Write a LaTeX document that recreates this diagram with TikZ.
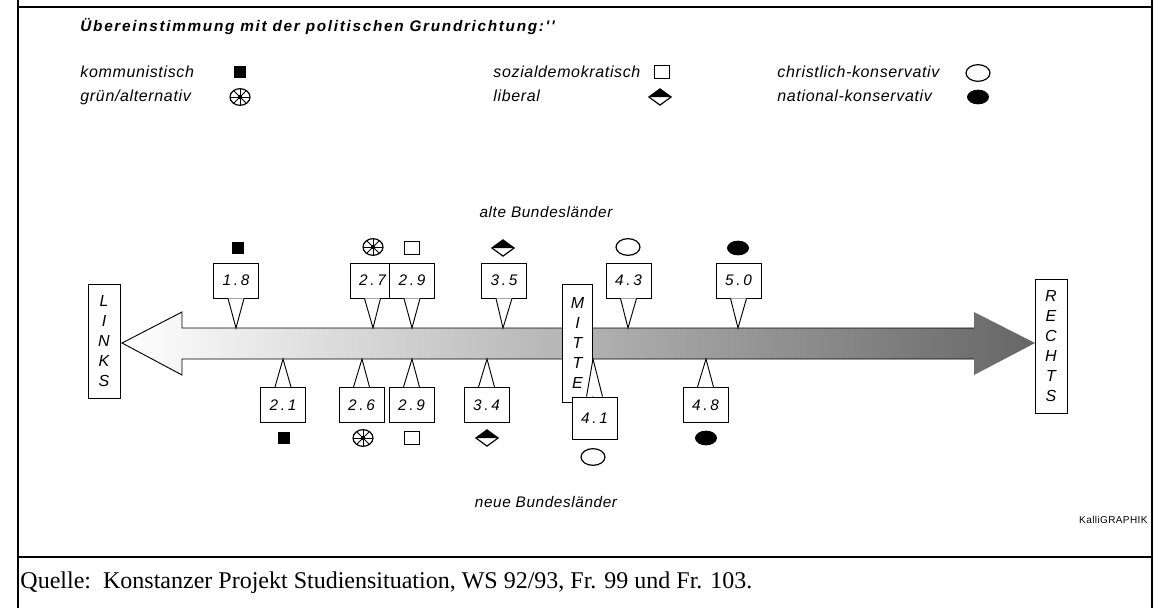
\documentclass[tikz,border=0pt]{standalone}
\usepackage{fontspec}
\setmainfont{Liberation Serif}
\newfontfamily\legfont[LetterSpace=4]{Liberation Sans}
\newfontfamily\titfont[LetterSpace=11]{Liberation Sans}
\newfontfamily\numfont[LetterSpace=18]{Liberation Sans}
\usetikzlibrary{shapes.geometric}

\begin{document}
\begin{tikzpicture}[x=0.75pt,y=-0.75pt,inner sep=0pt,line width=0.7pt,
  leg/.style={anchor=base west,font=\legfont\itshape\fontsize{12}{14}\selectfont},
  wert/.style={draw,fill=white,minimum width=33.75pt,minimum height=26.25pt,font=\numfont\itshape\fontsize{11.5}{13}\selectfont},
  zeiger/.style={draw,fill=white},
  seite/.style={draw,fill=white,align=center,minimum width=24pt,font=\legfont\itshape\fontsize{12}{15}\selectfont},
  komm/.style={fill=black,minimum width=9pt,minimum height=8.5pt},
  spd/.style={draw,fill=white,minimum width=11pt,minimum height=10pt,line width=0.9pt},
  gruen/.style={ellipse,draw,fill=white,minimum width=15pt,minimum height=12.5pt,line width=0.9pt,
    path picture={\foreach \w in {0,45,...,315} \draw[line width=0.7pt] (path picture bounding box.center) -- ++(\w:10pt);
      \fill[black] (path picture bounding box.center) circle (1.6pt);}},
  lib/.style={diamond,draw,fill=white,minimum width=17pt,minimum height=12.5pt,line width=0.9pt,
    path picture={\fill[black] (path picture bounding box.center) ++(-10pt,0pt) -- ++(10pt,8pt) -- ++(10pt,-8pt) -- cycle;}},
  cdu/.style={ellipse,draw,fill=white,minimum width=18pt,minimum height=12.5pt,line width=0.9pt},
  nat/.style={ellipse,fill=black,minimum width=16.5pt,minimum height=11pt}]
\useasboundingbox (0,0) rectangle (1160,608);

\draw[line width=1.1pt] (18,0) -- (18,608) (1152,0) -- (1152,608);
\draw[line width=1.1pt] (18,7) -- (1152,7) (18,557) -- (1152,557);

\node[anchor=base west,font=\titfont\bfseries\itshape\fontsize{11.5}{13}\selectfont] (titel) at (80,31) {Übereinstimmung mit der politischen Grundrichtung:''};

\node[leg] (lkomm) at (80,77) {kommunistisch};
\node[komm] (skomm) at (240,72) {};
\node[leg] (lgruen) at (80,101) {grün/alternativ};
\node[gruen] (sgruen) at (240,97) {};
\node[leg] (lspd) at (493,77) {sozialdemokratisch};
\node[spd] (sspd) at (662,72) {};
\node[leg] (llib) at (493,101) {liberal};
\node[lib] (slib) at (660,97) {};
\node[leg] (lcdu) at (777,77) {christlich-konservativ};
\node[cdu] (scdu) at (978,73) {};
\node[leg] (lnat) at (777,101) {national-konservativ};
\node[nat] (snat) at (978,97) {};

\node[font=\legfont\itshape\fontsize{11.5}{13}\selectfont] (alt) at (546,212) {alte Bundesländer};
\node[font=\legfont\itshape\fontsize{11.5}{13}\selectfont] (neu) at (546,502) {neue Bundesländer};
\node[anchor=east,font=\legfont\fontsize{7.5}{8}\selectfont] (kalli) at (1148,520) {KalliGRAPHIK};

\shade[left color=white,right color=black!60] (182,328) -- (974,328) -- (974,312) -- (1035,343)
  -- (974,375) -- (974,359) -- (182,359) -- (182,375) -- (122,343) -- (182,312) -- cycle;
\draw (974,328) -- (182,328) -- (182,312) -- (122,343) -- (182,375) -- (182,359) -- (974,359);

\node[seite,minimum height=86pt] (links) at (104,341.5) {L\\I\\N\\K\\S};
\node[seite,minimum height=101pt] (rechts) at (1051,346.5) {R\\E\\C\\H\\T\\S};
\node[seite,minimum width=23pt,minimum height=88.5pt] (mitte) at (577.5,343) {M\\I\\T\\T\\E};

\node[wert] (o18) at (236,280.5) {1.8};
\node[wert] (o27) at (372.5,280.5) {2.7};
\node[wert] (o29) at (412,280.5) {2.9};
\node[wert] (o35) at (504,280.5) {3.5};
\node[wert] (o43) at (628.5,280.5) {4.3};
\node[wert] (o50) at (738.5,280.5) {5.0};
\coordinate (t18) at (236,328);
\coordinate (t27) at (373,328);
\coordinate (t29) at (412,328);
\coordinate (t35) at (503,328);
\coordinate (t43) at (628,328);
\coordinate (t50) at (738,328);
\draw[zeiger] ([xshift=-6pt]o18.south) -- (t18) -- ([xshift=6pt]o18.south);
\draw[zeiger] ([xshift=-6pt]o27.south) -- (t27) -- ([xshift=6pt]o27.south);
\draw[zeiger] ([xshift=-6pt]o29.south) -- (t29) -- ([xshift=6pt]o29.south);
\draw[zeiger] ([xshift=-6pt]o35.south) -- (t35) -- ([xshift=6pt]o35.south);
\draw[zeiger] ([xshift=-6pt]o43.south) -- (t43) -- ([xshift=6pt]o43.south);
\draw[zeiger] ([xshift=-6pt]o50.south) -- (t50) -- ([xshift=6pt]o50.south);
\node[komm] (a18) at (238,248) {};
\node[gruen] (a27) at (373,247) {};
\node[spd] (a29) at (412,248) {};
\node[lib] (a35) at (503,248) {};
\node[cdu] (a43) at (628,247) {};
\node[nat] (a50) at (738,248) {};

\node[wert] (u21) at (283,405) {2.1};
\node[wert] (u26) at (361.5,405) {2.6};
\node[wert] (u29) at (411.5,405) {2.9};
\node[wert] (u34) at (486.5,405) {3.4};
\node[wert,minimum height=31.5pt] (u41) at (594.5,418) {4.1};
\node[wert] (u48) at (705.5,405) {4.8};
\coordinate (b21) at (283,359);
\coordinate (b26) at (362,359);
\coordinate (b29) at (412,359);
\coordinate (b34) at (487,359);
\coordinate (b41) at (593,359);
\coordinate (b48) at (706,359);
\draw[zeiger] ([xshift=-6pt]u21.north) -- (b21) -- ([xshift=6pt]u21.north);
\draw[zeiger] ([xshift=-6pt]u26.north) -- (b26) -- ([xshift=6pt]u26.north);
\draw[zeiger] ([xshift=-6pt]u29.north) -- (b29) -- ([xshift=6pt]u29.north);
\draw[zeiger] ([xshift=-6pt]u34.north) -- (b34) -- ([xshift=6pt]u34.north);
\draw[zeiger] ([xshift=-6pt]u41.north) -- (b41) -- ([xshift=6pt]u41.north);
\draw[zeiger] ([xshift=-6pt]u48.north) -- (b48) -- ([xshift=6pt]u48.north);
\node[komm] (c21) at (284,438) {};
\node[gruen] (c26) at (363,438) {};
\node[spd] (c29) at (412,438) {};
\node[lib] (c34) at (487,438) {};
\node[cdu] (c41) at (593,457) {};
\node[nat] (c48) at (706,438) {};

\node[anchor=base west,font=\fontsize{18}{21}\selectfont] (quelle) at (20,588) {Quelle:\ \ Konstanzer Projekt Studiensituation, WS 92/93, Fr. 99 und Fr. 103.};
\end{tikzpicture}
\end{document}
